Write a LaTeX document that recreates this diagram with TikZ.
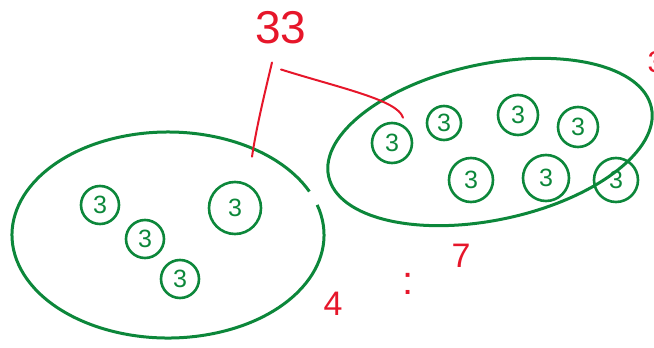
\documentclass[tikz,border=0pt]{standalone}
\usepackage{fontspec}
\setmainfont{Liberation Sans}
\usetikzlibrary{calc}

\definecolor{ink}{RGB}{12,135,58}
\definecolor{pen}{RGB}{230,22,42}

\tikzset{
  grp/.style={draw=ink,line width=3pt},
  three/.style={circle,draw=ink,line width=2.6pt,text=ink,inner sep=0pt,
    minimum size=#1,font=\fontsize{25}{25}\selectfont},
  three/.default=38pt,
  link/.style={draw=pen,line width=2pt,line cap=round},
  note/.style={text=pen,inner sep=0pt}
}

\begin{document}
\begin{tikzpicture}[x=1pt,y=-1pt]
\useasboundingbox (0,0) rectangle (654,348);
% the two groups
\draw[grp] (168,235) ++(-17:156 and 103) arc[start angle=-17,end angle=335,x radius=156,y radius=103];
\draw[grp,rotate around={12:(490,142)}] (490,142) ellipse[x radius=165,y radius=78];
% left group
\node[three] (l1) at (100,205) {3};
\node[three] (l2) at (145,239) {3};
\node[three] (l3) at (180,279) {3};
\node[three=52pt] (l4) at (235,208) {3};
% right group
\node[three=40pt] (r1) at (392,143) {3};
\node[three=34pt] (r2) at (444,123) {3};
\node[three=40pt] (r3) at (518,115) {3};
\node[three=40pt] (r4) at (578,127) {3};
\node[three=44pt] (r5) at (471,180) {3};
\node[three=46pt] (r6) at (546,178) {3};
\node[three=44pt] (r7) at (616,180) {3};
% labels
\node[note,font=\fontsize{46}{46}\selectfont] (num) at (281,28) {33};
\node[note,font=\fontsize{34}{34}\selectfont] (four) at (333,304) {4};
\node[note,font=\fontsize{40}{40}\selectfont] (colon) at (408,284) {:};
\node[note,font=\fontsize{34}{34}\selectfont] (seven) at (461,256) {7};
\node[note,font=\fontsize{30}{30}\selectfont] (edge) at (656,62) {3};
% links from 33
\coordinate (a1) at ($(num.south)+(-9,18)$);
\coordinate (a2) at ($(l4.north)+(17,-24)$);
\coordinate (b1) at ($(num.south)+(0,25)$);
\coordinate (b2) at ($(r1.north)+(11,-4)$);
\draw[link] (a1) .. controls (263,100) and (256,130) .. (a2);
\draw[link] (b1) .. controls (340,88) and (398,100) .. (b2);
\end{tikzpicture}
\end{document}
